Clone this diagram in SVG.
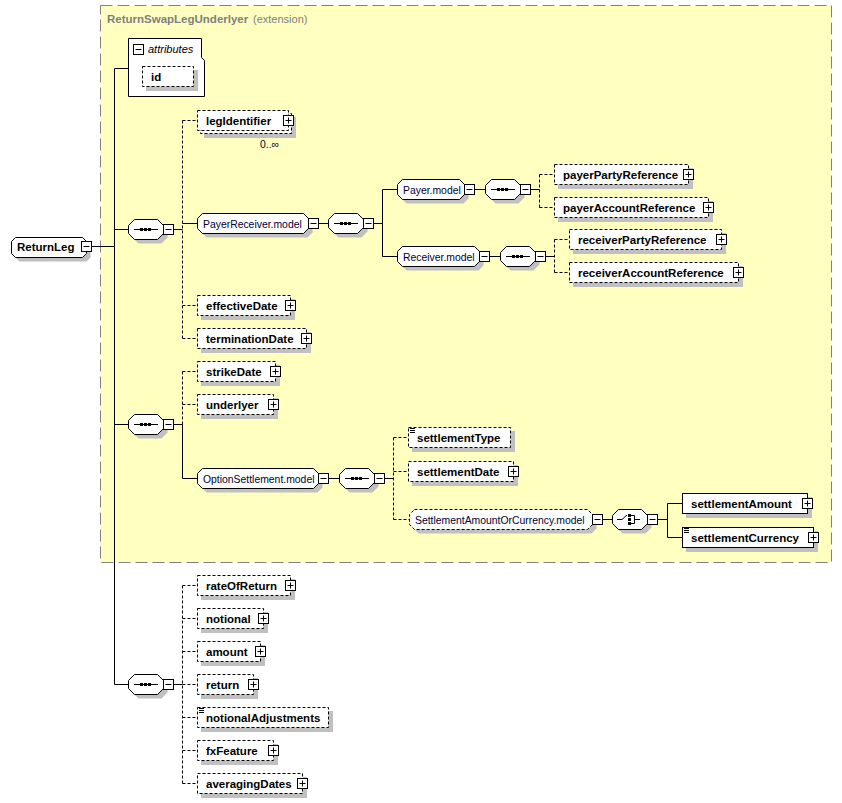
<svg xmlns="http://www.w3.org/2000/svg" xmlns:xlink="http://www.w3.org/1999/xlink" width="842" height="803" viewBox="0 0 842 803">
<defs>
<style>
.b{font-family:"Liberation Sans",Arial,sans-serif;font-size:11.5px;font-weight:bold;fill:#000}
.r{font-family:"Liberation Sans",Arial,sans-serif;font-size:10.4px;fill:#000033}
.i{font-family:"Liberation Sans",Arial,sans-serif;font-size:11px;font-style:italic;fill:#000}
.tg{font-family:"Liberation Sans",Arial,sans-serif;font-size:11.5px;font-weight:bold;fill:#808080}
.tr{font-family:"Liberation Sans",Arial,sans-serif;font-size:11px;fill:#808080}
.box{fill:#fff;stroke:#000;stroke-width:1}
.d{stroke-dasharray:3,2}
.sh{fill:#c0c0c0;stroke:none}
.ln{fill:none;stroke:#000;stroke-width:1}
.dl{fill:none;stroke:#000;stroke-width:1;stroke-dasharray:3,2}
.ext{fill:#ffffc0;stroke:#808080;stroke-width:1;stroke-dasharray:12,5}
</style>
<g id="plus"><rect x="0.5" y="0.5" width="10" height="10" class="box"/><path d="M2.5,5.5H8.5M5.5,2.5V8.5" class="ln"/></g>
<g id="minus"><rect x="0.5" y="0.5" width="10" height="10" class="box"/><path d="M2.5,5.5H8.5" class="ln"/></g>
<g id="doc"><path d="M2,1.5H7M2,3.5H7M2,5.5H7" class="ln"/></g>
<g id="seq">
<path class="sh" d="M10.5,4.5H33.5L39.5,10.5V18.5L33.5,24.5H10.5L4.5,18.5V10.5Z"/>
<path class="box" d="M6.5,0.5H29.5L35.5,6.5V14.5L29.5,20.5H6.5L0.5,14.5V6.5Z"/>
<path class="ln" d="M6,10.5H30"/>
<rect x="12" y="9" width="3" height="3"/><rect x="16" y="9" width="3" height="3"/><rect x="20" y="9" width="3" height="3"/>
<use xlink:href="#minus" x="35" y="5"/>
</g>
<g id="cho">
<path class="sh" d="M10.5,4.5H33.5L39.5,10.5V18.5L33.5,24.5H10.5L4.5,18.5V10.5Z"/>
<path class="box" d="M6.5,0.5H29.5L35.5,6.5V14.5L29.5,20.5H6.5L0.5,14.5V6.5Z"/>
<path class="ln" d="M5,10.5H10L15,6"/>
<rect x="16" y="5" width="3" height="3"/><rect x="16" y="9" width="3" height="3"/><rect x="16" y="13" width="3" height="3"/>
<path class="ln" d="M19,6.5H22.5V14.5H19M22.5,10.5H28"/>
<use xlink:href="#minus" x="35" y="5"/>
</g>
</defs>

<rect width="842" height="803" fill="#fff"/>

<g id="extension">
<rect class="ext" x="100.5" y="5.5" width="731" height="557"/>
<text x="107" y="23"><tspan class="tg">ReturnSwapLegUnderlyer</tspan><tspan class="tr" x="253">(extension)</tspan></text>
</g>

<g id="connectors">
<path class="ln" d="M92,246.5H114.5M114.5,68.5V684.5M114.5,68.5H128M114.5,229.5H128M114.5,424.5H128M114.5,684.5H128
M174,229.5H182.5M182.5,223.5H197M319,223.5H328M374,223.5H382.5M382.5,189.5V256.5M382.5,189.5H397M382.5,256.5H397
M475,189.5H485M531,189.5H539.5M490,256.5H500M546,256.5H554.5
M174,424.5H182.5M182.5,424.5V478.5M182.5,478.5H197M329,478.5H339M385,478.5H393.5
M603,519.5H612M658,519.5H667.5M667.5,503.5V537.5M667.5,503.5H682M667.5,537.5H682
M174,684.5H182.5"/>
<path class="dl" d="M182.5,120.5V338.5M182.5,120.5H197M182.5,305.5H197M182.5,338.5H197
M539.5,174.5V207.5M539.5,174.5H554M539.5,207.5H554
M554.5,239.5V272.5M554.5,239.5H569M554.5,272.5H569
M182.5,371.5V424.5M182.5,371.5H197M182.5,404.5H197
M393.5,437.5V519.5M393.5,437.5H408M393.5,471.5H408M393.5,519.5H409
M182.5,585.5V783.5M182.5,585.5H197M182.5,618.5H197M182.5,651.5H197M182.5,684.5H197M182.5,717.5H197M182.5,750.5H197M182.5,783.5H197"/>
</g>

<g id="ReturnLeg" transform="translate(11,237)">
<path class="sh" d="M8.5,4.5H75.5L79.5,8.5V20.5L75.5,24.5H8.5L4.5,20.5V8.5Z"/>
<path class="box" d="M4.5,0.5H71.5L75.5,4.5V16.5L71.5,20.5H4.5L0.5,16.5V4.5Z"/>
<text x="6" y="14" class="b">ReturnLeg</text>
<use xlink:href="#minus" x="70" y="4"/>
</g>

<g id="attributes">
<path class="box" d="M128.5,38.5H201.5V57.5L204.5,60.5V96.5H128.5Z"/>
<use xlink:href="#minus" x="133" y="44"/>
<text x="148" y="53" class="i">attributes</text>
</g>
<g id="id">
<rect class="sh" x="146" y="70" width="52" height="21"/>
<rect class="box d" x="142.5" y="66.5" width="51" height="20"/>
<text x="151" y="80.5" class="b">id</text>
</g>

<g id="seq1"><use xlink:href="#seq" x="128" y="219"/></g>
<g id="seq2"><use xlink:href="#seq" x="128" y="414"/></g>
<g id="seq3"><use xlink:href="#seq" x="128" y="674"/></g>

<g id="legIdentifier">
<rect class="sh" x="204" y="117" width="92" height="21"/>
<rect class="box d" x="200.5" y="113.5" width="91" height="20"/>
<rect class="box d" x="197.5" y="110.5" width="91" height="20"/>
<text x="206" y="124.5" class="b">legIdentifier</text>
<use xlink:href="#plus" x="283" y="115"/>
<text x="260" y="148" class="r">0..∞</text>
</g>

<g id="PayerReceiver.model" transform="translate(197,213)">
<path class="sh" d="M9.5,4.5H110.5L115.5,9.5V19.5L110.5,24.5H9.5L4.5,19.5V9.5Z"/>
<path class="box" d="M5.5,0.5H106.5L111.5,5.5V15.5L106.5,20.5H5.5L0.5,15.5V5.5Z"/>
<text x="6" y="14.5" class="r">PayerReceiver.model</text>
<use xlink:href="#minus" x="111" y="5"/>
</g>
<g id="seqPR"><use xlink:href="#seq" x="328" y="213"/></g>

<g id="Payer.model" transform="translate(397,179)">
<path class="sh" d="M9.5,4.5H66.5L71.5,9.5V19.5L66.5,24.5H9.5L4.5,19.5V9.5Z"/>
<path class="box" d="M5.5,0.5H62.5L67.5,5.5V15.5L62.5,20.5H5.5L0.5,15.5V5.5Z"/>
<text x="6" y="14.5" class="r">Payer.model</text>
<use xlink:href="#minus" x="67" y="5"/>
</g>
<g id="seqPayer"><use xlink:href="#seq" x="485" y="179"/></g>

<g id="Receiver.model" transform="translate(397,246)">
<path class="sh" d="M9.5,4.5H81.5L86.5,9.5V19.5L81.5,24.5H9.5L4.5,19.5V9.5Z"/>
<path class="box" d="M5.5,0.5H77.5L82.5,5.5V15.5L77.5,20.5H5.5L0.5,15.5V5.5Z"/>
<text x="6" y="14.5" class="r">Receiver.model</text>
<use xlink:href="#minus" x="82" y="5"/>
</g>
<g id="seqReceiver"><use xlink:href="#seq" x="500" y="246"/></g>

<g id="payerPartyReference">
<rect class="sh" x="558" y="168" width="135" height="21"/>
<rect class="box d" x="554.5" y="164.5" width="134" height="20"/>
<text x="563" y="178.5" class="b">payerPartyReference</text>
<use xlink:href="#plus" x="683" y="169"/>
</g>
<g id="payerAccountReference">
<rect class="sh" x="558" y="201" width="155" height="21"/>
<rect class="box d" x="554.5" y="197.5" width="154" height="20"/>
<text x="563" y="211.5" class="b">payerAccountReference</text>
<use xlink:href="#plus" x="703" y="202"/>
</g>
<g id="receiverPartyReference">
<rect class="sh" x="573" y="233" width="153" height="21"/>
<rect class="box d" x="569.5" y="229.5" width="152" height="20"/>
<text x="578" y="243.5" class="b">receiverPartyReference</text>
<use xlink:href="#plus" x="716" y="234"/>
</g>
<g id="receiverAccountReference">
<rect class="sh" x="573" y="266" width="170" height="21"/>
<rect class="box d" x="569.5" y="262.5" width="169" height="20"/>
<text x="578" y="276.5" class="b">receiverAccountReference</text>
<use xlink:href="#plus" x="733" y="267"/>
</g>

<g id="effectiveDate">
<rect class="sh" x="201" y="299" width="94" height="21"/>
<rect class="box d" x="197.5" y="295.5" width="93" height="20"/>
<text x="206" y="309.5" class="b">effectiveDate</text>
<use xlink:href="#plus" x="285" y="300"/>
</g>
<g id="terminationDate">
<rect class="sh" x="201" y="332" width="110" height="21"/>
<rect class="box d" x="197.5" y="328.5" width="109" height="20"/>
<text x="206" y="342.5" class="b">terminationDate</text>
<use xlink:href="#plus" x="301" y="333"/>
</g>
<g id="strikeDate">
<rect class="sh" x="201" y="365" width="79" height="21"/>
<rect class="box d" x="197.5" y="361.5" width="78" height="20"/>
<text x="206" y="375.5" class="b">strikeDate</text>
<use xlink:href="#plus" x="270" y="366"/>
</g>
<g id="underlyer">
<rect class="sh" x="201" y="398" width="77" height="21"/>
<rect class="box d" x="197.5" y="394.5" width="76" height="20"/>
<text x="206" y="408.5" class="b">underlyer</text>
<use xlink:href="#plus" x="268" y="399"/>
</g>

<g id="OptionSettlement.model" transform="translate(197,468)">
<path class="sh" d="M9.5,4.5H120.5L125.5,9.5V19.5L120.5,24.5H9.5L4.5,19.5V9.5Z"/>
<path class="box" d="M5.5,0.5H116.5L121.5,5.5V15.5L116.5,20.5H5.5L0.5,15.5V5.5Z"/>
<text x="6" y="14.5" class="r">OptionSettlement.model</text>
<use xlink:href="#minus" x="121" y="5"/>
</g>
<g id="seqOS"><use xlink:href="#seq" x="339" y="468"/></g>

<g id="settlementType">
<rect class="sh" x="412" y="431" width="103" height="21"/>
<rect class="box d" x="408.5" y="427.5" width="102" height="20"/>
<use xlink:href="#doc" x="408" y="427"/>
<text x="417" y="441.5" class="b">settlementType</text>
</g>
<g id="settlementDate">
<rect class="sh" x="412" y="465" width="106" height="21"/>
<rect class="box d" x="408.5" y="461.5" width="105" height="20"/>
<text x="417" y="475.5" class="b">settlementDate</text>
<use xlink:href="#plus" x="508" y="466"/>
</g>

<g id="SettlementAmountOrCurrency.model" transform="translate(409,509)">
<path class="sh" d="M9.5,4.5H182.5L187.5,9.5V19.5L182.5,24.5H9.5L4.5,19.5V9.5Z"/>
<path class="box d" d="M5.5,0.5H178.5L183.5,5.5V15.5L178.5,20.5H5.5L0.5,15.5V5.5Z"/>
<text x="6" y="14.5" class="r">SettlementAmountOrCurrency.model</text>
<use xlink:href="#minus" x="183" y="5"/>
</g>
<g id="choice"><use xlink:href="#cho" x="612" y="509"/></g>

<g id="settlementAmount">
<rect class="sh" x="686" y="497" width="126" height="21"/>
<rect class="box" x="682.5" y="493.5" width="125" height="20"/>
<text x="691" y="507.5" class="b">settlementAmount</text>
<use xlink:href="#plus" x="802" y="498"/>
</g>
<g id="settlementCurrency">
<rect class="sh" x="686" y="531" width="132" height="21"/>
<rect class="box" x="682.5" y="527.5" width="131" height="20"/>
<use xlink:href="#doc" x="682" y="527"/>
<text x="691" y="541.5" class="b">settlementCurrency</text>
<use xlink:href="#plus" x="808" y="532"/>
</g>

<g id="rateOfReturn">
<rect class="sh" x="201" y="579" width="94" height="21"/>
<rect class="box d" x="197.5" y="575.5" width="93" height="20"/>
<text x="206" y="589.5" class="b">rateOfReturn</text>
<use xlink:href="#plus" x="285" y="580"/>
</g>
<g id="notional">
<rect class="sh" x="201" y="612" width="67" height="21"/>
<rect class="box d" x="197.5" y="608.5" width="66" height="20"/>
<text x="206" y="622.5" class="b">notional</text>
<use xlink:href="#plus" x="258" y="613"/>
</g>
<g id="amount">
<rect class="sh" x="201" y="645" width="64" height="21"/>
<rect class="box d" x="197.5" y="641.5" width="63" height="20"/>
<text x="206" y="655.5" class="b">amount</text>
<use xlink:href="#plus" x="255" y="646"/>
</g>
<g id="return">
<rect class="sh" x="201" y="678" width="57" height="21"/>
<rect class="box d" x="197.5" y="674.5" width="56" height="20"/>
<text x="206" y="688.5" class="b">return</text>
<use xlink:href="#plus" x="248" y="679"/>
</g>
<g id="notionalAdjustments">
<rect class="sh" x="201" y="711" width="132" height="21"/>
<rect class="box d" x="197.5" y="707.5" width="131" height="20"/>
<use xlink:href="#doc" x="197" y="707"/>
<text x="206" y="721.5" class="b">notionalAdjustments</text>
</g>
<g id="fxFeature">
<rect class="sh" x="201" y="744" width="77" height="21"/>
<rect class="box d" x="197.5" y="740.5" width="76" height="20"/>
<text x="206" y="754.5" class="b">fxFeature</text>
<use xlink:href="#plus" x="268" y="745"/>
</g>
<g id="averagingDates">
<rect class="sh" x="201" y="777" width="106" height="21"/>
<rect class="box d" x="197.5" y="773.5" width="105" height="20"/>
<text x="206" y="787.5" class="b">averagingDates</text>
<use xlink:href="#plus" x="297" y="778"/>
</g>
</svg>
